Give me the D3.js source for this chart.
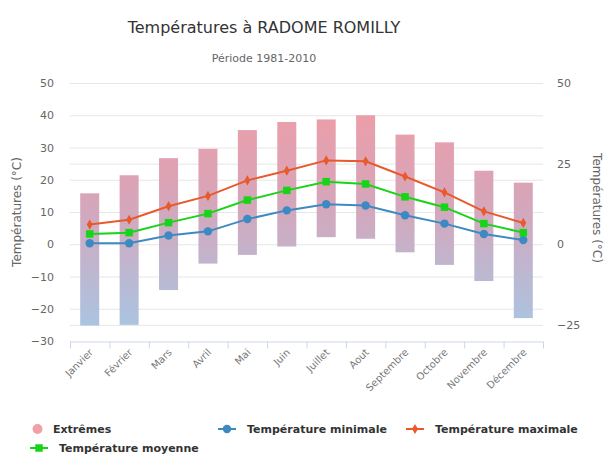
<!DOCTYPE html>
<html>
<head>
<meta charset="utf-8">
<script src="https://cdn.jsdelivr.net/npm/d3@7"></script>
<style>
  body { margin: 0; background: #fff; }
  svg { display: block; font-family: "DejaVu Sans", sans-serif; }
</style>
</head>
<body>
<div id="chart"></div>
<script>
// month categories
var months = ['Janvier', 'Février', 'Mars', 'Avril', 'Mai', 'Juin', 'Juillet',
  'Aout', 'Septembre', 'Octobre', 'Novembre', 'Décembre'];

// extremes (record low / record high)
var extremeLow  = [-25.2, -25.0, -14.2, -6.0, -3.3, -0.7, 2.2, 1.7, -2.5, -6.4, -11.4, -22.9];
var extremeHigh = [15.8, 21.4, 26.7, 29.6, 35.4, 37.9, 38.7, 40.0, 34.0, 31.6, 22.8, 19.1];

var tempMin  = [0.3, 0.3, 2.7, 4.0, 7.8, 10.5, 12.4, 12.0, 9.0, 6.4, 3.2, 1.3];
var tempMoy  = [3.2, 3.6, 6.7, 9.5, 13.7, 16.7, 19.4, 18.7, 14.7, 11.5, 6.4, 3.6];
var tempMax  = [6.1, 7.6, 11.8, 15.0, 19.8, 22.8, 26.0, 25.7, 21.0, 16.1, 10.2, 6.6];

var leftTicks  = [-30, -20, -10, 0, 10, 20, 30, 40, 50];
var rightTicks = [-25, 0, 25, 50];

var width = 606, height = 455;
var plot = { left: 70, right: 543, top: 83, bottom: 341 };

var svg = d3.select('#chart').append('svg')
  .attr('width', width)
  .attr('height', height);

var x = d3.scaleBand().domain(months).range([plot.left, plot.right]).padding(0);
var y = d3.scaleLinear().domain([-30, 50]).range([plot.bottom, plot.top]);

// gradient for the extremes bars
var grad = svg.append('defs').append('linearGradient')
  .attr('id', 'extGrad')
  .attr('gradientUnits', 'userSpaceOnUse')
  .attr('x1', 0).attr('x2', 0)
  .attr('y1', y(50)).attr('y2', y(-30));
grad.append('stop').attr('offset', '0%').attr('stop-color', '#f39ca4');
grad.append('stop').attr('offset', '45%').attr('stop-color', '#d7a5b9');
grad.append('stop').attr('offset', '100%').attr('stop-color', '#a5c8e6');

// title
svg.append('text')
  .attr('x', 264).attr('y', 33)
  .attr('text-anchor', 'middle')
  .attr('font-size', 16)
  .attr('fill', '#333')
  .text('Températures à RADOME ROMILLY');

svg.append('text')
  .attr('x', 264).attr('y', 62)
  .attr('text-anchor', 'middle')
  .attr('font-size', 11)
  .attr('fill', '#666')
  .text('Période 1981-2010');

// grid lines (both axes)
var gridVals = leftTicks.concat([-25, 25]).filter(function(d) { return d > -30; });
svg.append('g').selectAll('line')
  .data(gridVals).enter()
  .append('line')
  .attr('x1', plot.left).attr('x2', plot.right)
  .attr('y1', function(d) { return y(d) + 0.5; })
  .attr('y2', function(d) { return y(d) + 0.5; })
  .attr('stroke', '#e6e6e6')
  .attr('stroke-width', 1);

// left axis
var leftAxis = svg.append('g')
  .attr('transform', 'translate(' + (plot.left - 16) + ',0)')
  .call(d3.axisLeft(y).tickValues(leftTicks).tickSize(0).tickPadding(0));
leftAxis.select('.domain').remove();
leftAxis.selectAll('text').attr('font-size', 11).attr('fill', '#666')
  .attr('font-family', '"DejaVu Sans", sans-serif');

// right axis
var rightAxis = svg.append('g')
  .attr('transform', 'translate(' + (plot.right + 14) + ',0)')
  .call(d3.axisRight(y).tickValues(rightTicks).tickSize(0).tickPadding(0)
    .tickFormat(d3.format('d')));
rightAxis.select('.domain').remove();
rightAxis.selectAll('text').attr('font-size', 11).attr('fill', '#666')
  .attr('font-family', '"DejaVu Sans", sans-serif');

// axis titles
svg.append('text')
  .attr('transform', 'translate(21,' + ((plot.top + plot.bottom) / 2) + ') rotate(-90)')
  .attr('text-anchor', 'middle')
  .attr('font-size', 12)
  .attr('fill', '#666')
  .text('Températures (°C)');

svg.append('text')
  .attr('transform', 'translate(593,' + ((plot.top + plot.bottom) / 2 - 4) + ') rotate(90)')
  .attr('text-anchor', 'middle')
  .attr('font-size', 12)
  .attr('fill', '#666')
  .text('Températures (°C)');

// x axis
var xAxis = svg.append('g')
  .attr('transform', 'translate(0,' + (plot.bottom + 0.5) + ')')
  .call(d3.axisBottom(x).tickSize(0).tickFormat(''));
xAxis.select('.domain').attr('stroke', '#ccd6eb');
var boundaries = months.map(function(m) { return x(m); }).concat([plot.right]);
xAxis.selectAll('.tick-b')
  .data(boundaries).enter()
  .append('line')
  .attr('class', 'tick-b')
  .attr('x1', function(d) { return d + 0.5; })
  .attr('x2', function(d) { return d + 0.5; })
  .attr('y1', 0).attr('y2', 7)
  .attr('stroke', '#ccd6eb');
svg.append('g').selectAll('text')
  .data(months).enter()
  .append('text')
  .attr('transform', function(d) {
    return 'translate(' + (x(d) + x.bandwidth() / 2 + 4) + ',' + (plot.bottom + 12) + ') rotate(-45)';
  })
  .attr('text-anchor', 'end')
  .attr('font-size', 10)
  .attr('fill', '#777')
  .text(function(d) { return d; });

// extremes bars
var barW = 19;
svg.append('g').selectAll('rect')
  .data(months).enter()
  .append('rect')
  .attr('x', function(d) { return x(d) + x.bandwidth() / 2 - barW / 2; })
  .attr('width', barW)
  .attr('y', function(d, i) { return y(extremeHigh[i]); })
  .attr('height', function(d, i) { return y(extremeLow[i]) - y(extremeHigh[i]); })
  .attr('fill', 'url(#extGrad)');

var cx = function(d, i) { return x(months[i]) + x.bandwidth() / 2; };

var series = [
  { name: 'Température minimale', values: tempMin, color: '#3d8ac2', symbol: d3.symbolCircle, size: 56 },
  { name: 'Température moyenne', values: tempMoy, color: '#18d418', symbol: d3.symbolSquare, size: 56 },
  { name: 'Température maximale', values: tempMax, color: '#e8592b', symbol: d3.symbolDiamond, size: 30 }
];

var line = d3.line()
  .x(cx)
  .y(function(d) { return y(d); })
  .curve(d3.curveLinear);

series.forEach(function(s) {
  var g = svg.append('g');
  g.append('path')
    .datum(s.values)
    .attr('d', line)
    .attr('fill', 'none')
    .attr('stroke', s.color)
    .attr('stroke-width', 2);
  g.selectAll('path.pt')
    .data(s.values).enter()
    .append('path')
    .attr('class', 'pt')
    .attr('d', d3.symbol().type(s.symbol).size(s.size))
    .attr('transform', function(d, i) { return 'translate(' + cx(d, i) + ',' + y(d) + ')'; })
    .attr('fill', s.color);
});

// legend
var legend = svg.append('g').attr('font-size', 11).attr('font-weight', 'bold').attr('fill', '#333');
legend.append('circle').attr('cx', 37.5).attr('cy', 429).attr('r', 5).attr('fill', '#f2a0a8');
legend.append('text').attr('x', 53).attr('y', 433).text('Extrêmes');

var legendItems = [
  { s: series[0], x: 218, y: 429 },
  { s: series[2], x: 406, y: 429 },
  { s: series[1], x: 30, y: 448 }
];
legendItems.forEach(function(it) {
  legend.append('line')
    .attr('x1', it.x).attr('x2', it.x + 18)
    .attr('y1', it.y).attr('y2', it.y)
    .attr('stroke', it.s.color).attr('stroke-width', 2);
  legend.append('path')
    .attr('d', d3.symbol().type(it.s.symbol).size(it.s.size))
    .attr('transform', 'translate(' + (it.x + 9) + ',' + it.y + ')')
    .attr('fill', it.s.color);
  legend.append('text')
    .attr('x', it.x + 29).attr('y', it.y + 4)
    .text(it.s.name);
});
</script>
</body>
</html>
